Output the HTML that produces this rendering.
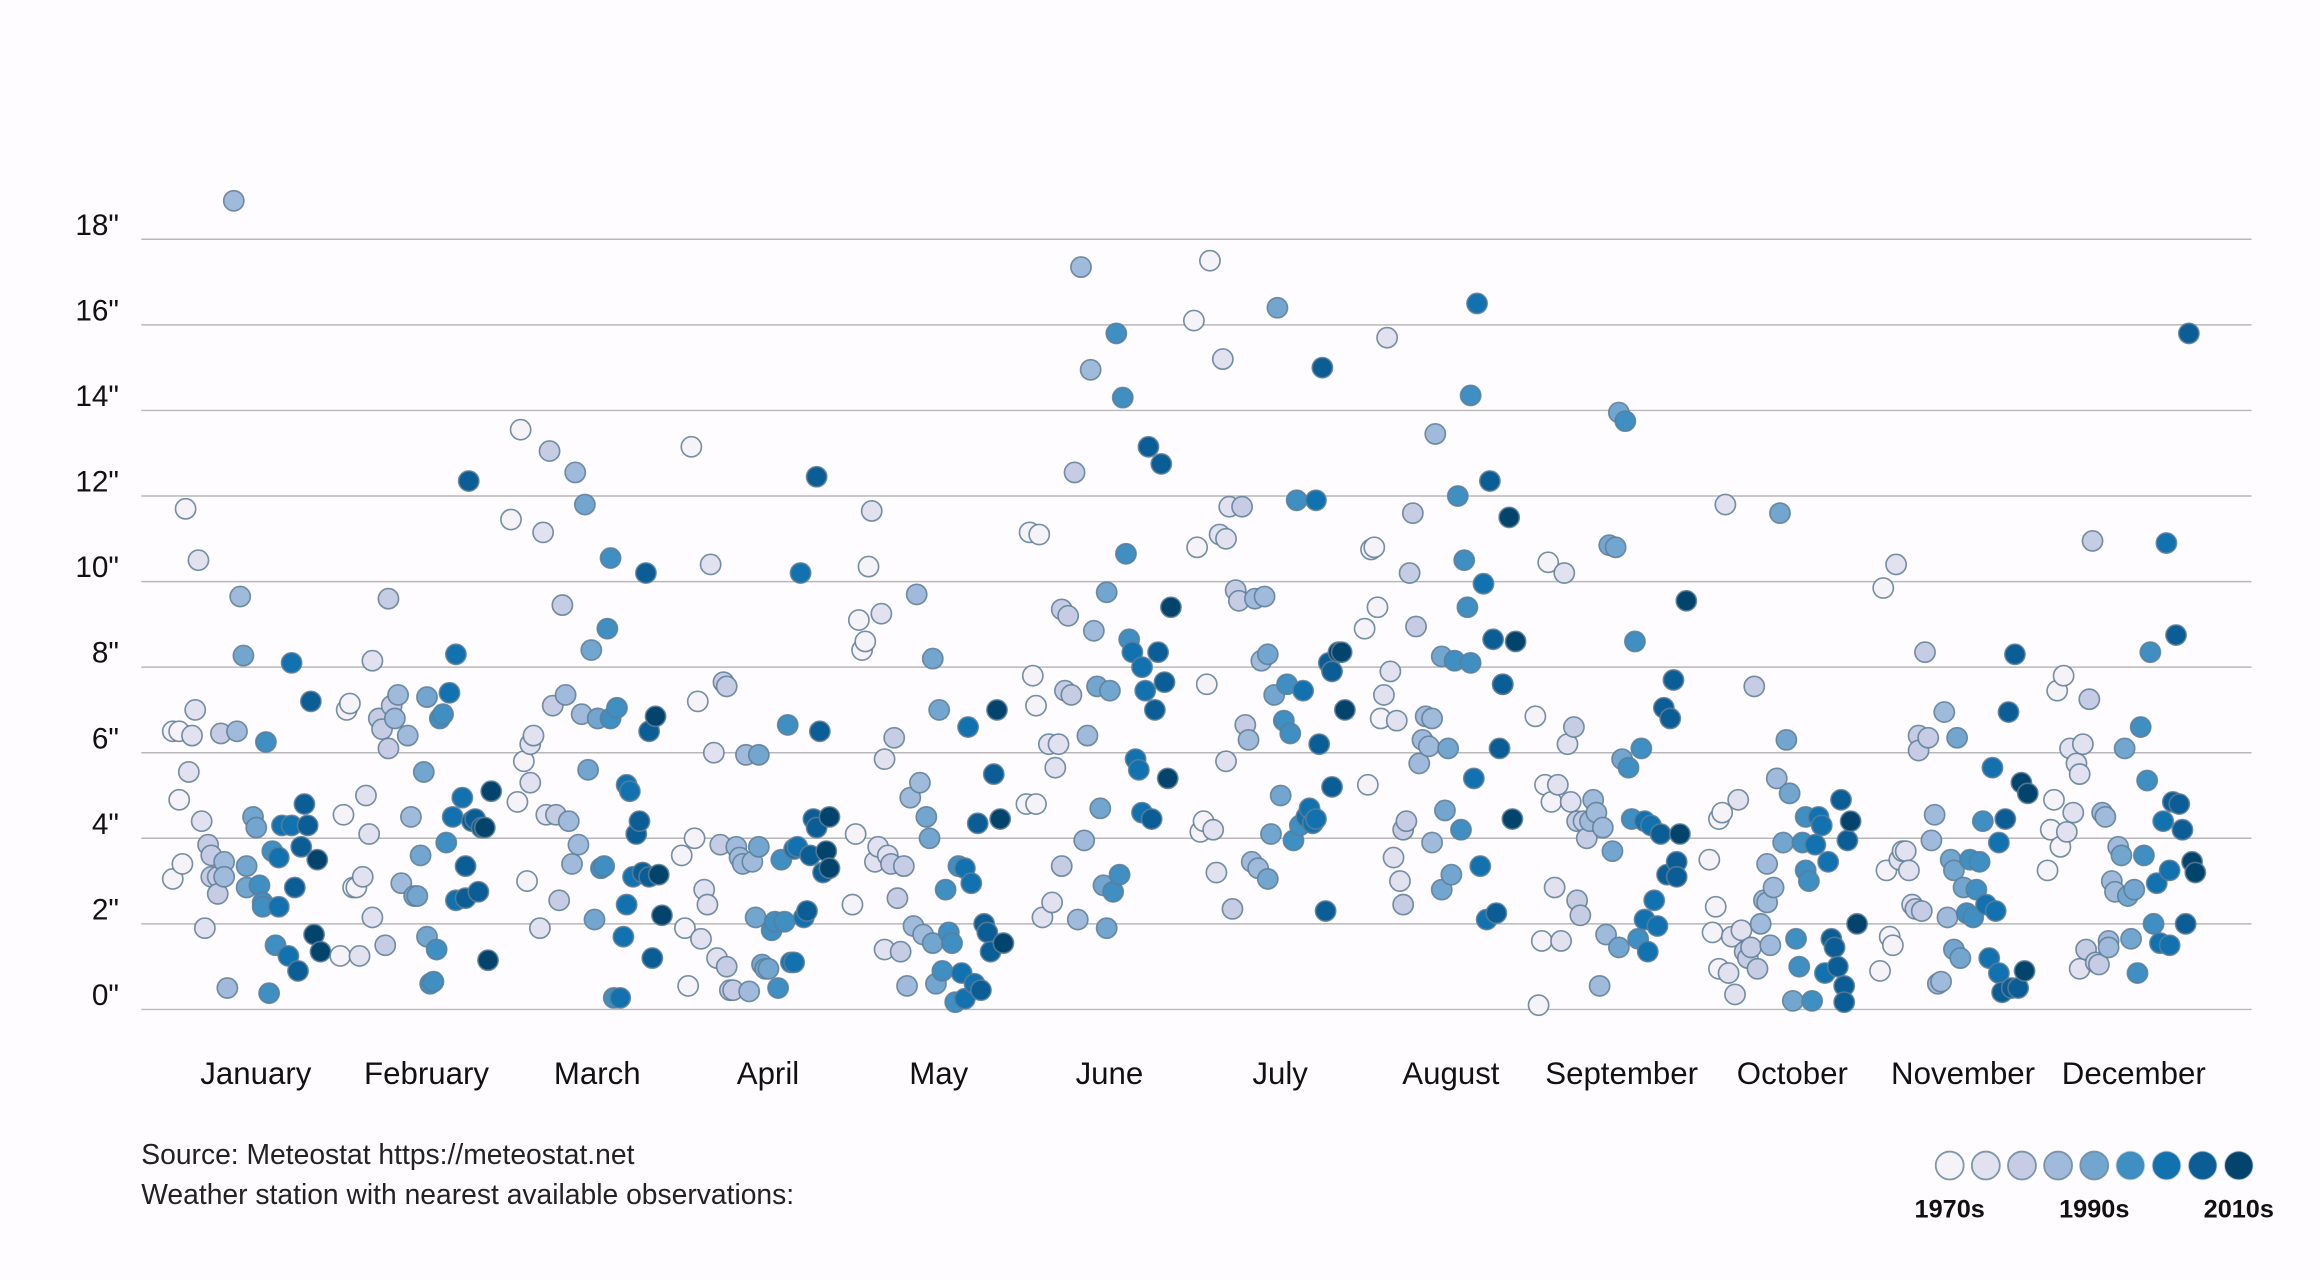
<!DOCTYPE html>
<html><head><meta charset="utf-8"><style>
html,body{margin:0;padding:0;background:#fefcfe;}
svg{display:block;font-family:"Liberation Sans",sans-serif;}
</style></head><body>
<svg id="chart" width="2320" height="1280" viewBox="0 0 1560 861" preserveAspectRatio="none" xmlns="http://www.w3.org/2000/svg">
<g id="grid"></g>
<g id="yticks"></g>
<g id="xticks"></g>
<g id="dots"></g>
<text x="95" y="783" font-size="19" fill="#222">Source: Meteostat https://meteostat.net</text>
<text x="95" y="810" font-size="19" fill="#222">Weather station with nearest available observations:</text>
<g id="legend"></g>
</svg>
<script>
const months = ["January","February","March","April","May","June","July","August","September","October","November","December"];
const yTicks = [0,2,4,6,8,10,12,14,16,18];
const legendLabels = ["1970s","","","","1990s","","","","2010s"];
const decadeColors = ["#f5f2f8","#e1e1ef","#c5cce4","#9fbadb","#72a6cf","#3f8fc2","#1272b0","#0a5d95","#03446c"];
// each point: [years since 1970, inches]
const jan = [[1,6.5],[3,6.5],[5,11.7],[1,3.05],[3,4.9],[6,5.55],[7,6.4],[8,7.0],[9,10.5],[4,3.4],[10,4.4],[11,1.9],[12,3.85],[13,3.6],[13,3.1],[15,3.1],[15,2.7],[17,3.45],[17,3.1],[16,6.45],[18,0.5],[20,18.9],[21,6.5],[22,9.65],[23,8.27],[24,3.35],[24,2.85],[26,4.5],[27,4.25],[28,2.9],[29,2.5],[29,2.4],[30,6.25],[31,0.38],[32,3.7],[33,1.5],[34,3.55],[34,2.4],[35,4.3],[37,1.25],[38,8.1],[38,4.3],[39,2.85],[40,0.9],[41,3.8],[42,4.8],[43,4.3],[44,7.2],[45,1.75],[46,3.5],[47,1.35]];
const feb = [[0,1.25],[1,4.55],[2,7.0],[3,7.15],[4,2.85],[5,2.85],[6,1.25],[7,3.1],[8,5.0],[9,4.1],[10,8.15],[10,2.15],[12,6.8],[13,6.55],[14,1.5],[15,9.6],[15,6.1],[16,7.1],[17,6.8],[18,7.35],[19,2.95],[21,6.4],[22,4.5],[23,2.65],[24,2.65],[25,3.6],[26,5.55],[27,7.3],[27,1.7],[28,0.6],[29,0.65],[30,1.4],[31,6.8],[32,6.9],[33,3.9],[34,7.4],[35,4.5],[36,8.3],[36,2.55],[38,4.95],[39,2.6],[39,3.35],[40,12.35],[41,4.4],[42,4.45],[43,2.75],[44,4.25],[45,4.25],[46,1.15],[47,5.1]];
const mar = [[0,11.45],[2,4.85],[3,13.55],[4,5.8],[5,3.0],[6,5.3],[6,6.2],[7,6.4],[9,1.9],[10,11.15],[11,4.55],[12,13.05],[13,7.1],[14,4.55],[15,2.55],[16,9.45],[17,7.35],[18,4.4],[19,3.4],[20,12.55],[21,3.85],[22,6.9],[23,11.8],[24,5.6],[25,8.4],[26,2.1],[27,6.8],[28,3.3],[29,3.35],[30,8.9],[31,10.55],[31,6.8],[32,0.27],[33,7.05],[34,0.27],[35,1.7],[36,2.45],[36,5.25],[37,5.1],[38,3.1],[39,4.1],[40,4.4],[41,3.2],[42,10.2],[43,3.1],[43,6.5],[44,1.2],[45,6.85],[46,3.15],[47,2.2]];
const apr = [[0,3.6],[1,1.9],[2,0.55],[3,13.15],[4,4.0],[5,7.2],[6,1.65],[7,2.8],[8,2.45],[9,10.4],[10,6.0],[11,1.2],[12,3.85],[13,7.65],[14,7.55],[14,1.0],[15,0.45],[16,0.45],[17,3.8],[18,3.55],[19,3.4],[20,5.95],[21,0.42],[22,3.45],[23,2.15],[24,3.8],[24,5.95],[25,1.05],[26,0.95],[27,0.95],[28,1.85],[29,2.05],[30,0.5],[31,3.5],[32,2.05],[33,6.65],[34,1.1],[35,3.75],[35,1.1],[36,3.8],[37,10.2],[38,2.15],[39,2.3],[40,3.6],[41,4.45],[42,12.45],[42,4.25],[43,6.5],[44,3.2],[45,3.7],[46,3.3],[46,4.5]];
const may = [[0,2.45],[1,4.1],[2,9.1],[3,8.4],[4,8.6],[5,10.35],[6,11.65],[7,3.45],[8,3.8],[9,9.25],[10,5.85],[10,1.4],[11,3.6],[12,3.4],[13,6.35],[14,2.6],[15,1.35],[16,3.35],[17,0.55],[18,4.95],[19,1.95],[20,9.7],[21,5.3],[22,1.75],[23,4.5],[24,4.0],[25,1.55],[25,8.2],[26,0.6],[27,7.0],[28,0.9],[29,2.8],[30,1.8],[31,1.55],[32,0.17],[33,3.35],[34,0.85],[35,0.25],[35,3.3],[36,6.6],[37,2.95],[38,0.6],[39,4.35],[40,0.45],[41,2.0],[42,1.8],[43,1.35],[44,5.5],[45,7.0],[46,4.45],[47,1.55]];
const jun = [[1,4.8],[2,11.15],[3,7.8],[4,7.1],[4,4.8],[5,11.1],[6,2.15],[8,6.2],[9,2.5],[10,5.65],[11,6.2],[12,9.35],[12,3.35],[13,7.45],[14,9.2],[15,7.35],[16,12.55],[17,2.1],[18,17.35],[19,3.95],[20,6.4],[21,14.95],[22,8.85],[23,7.55],[24,4.7],[25,2.9],[26,9.75],[26,1.9],[27,7.45],[28,2.75],[29,15.8],[30,3.15],[31,14.3],[32,10.65],[33,8.65],[34,8.35],[35,5.85],[36,5.6],[37,8.0],[37,4.6],[38,7.45],[39,13.15],[40,4.45],[41,7.0],[42,8.35],[43,12.75],[44,7.65],[45,5.4],[46,9.4]];
const jul = [[0,16.1],[1,10.8],[2,4.15],[3,4.4],[4,7.6],[5,17.5],[6,4.2],[7,3.2],[8,11.1],[9,15.2],[10,11.0],[10,5.8],[11,11.75],[12,2.35],[13,9.8],[14,9.55],[15,11.75],[16,6.65],[17,6.3],[18,3.45],[19,9.6],[20,3.3],[21,8.15],[22,9.65],[23,8.3],[23,3.05],[24,4.1],[25,7.35],[26,16.4],[27,5.0],[28,6.75],[29,7.6],[30,6.45],[31,3.95],[32,11.9],[33,4.3],[34,7.45],[35,4.5],[36,4.7],[37,4.35],[38,11.9],[38,4.45],[39,6.2],[40,15.0],[41,2.3],[42,8.1],[43,5.2],[43,7.9],[45,8.35],[46,8.35],[47,7.0]];
const aug = [[0,8.9],[1,5.25],[2,10.75],[3,10.8],[4,9.4],[5,6.8],[6,7.35],[7,15.7],[8,7.9],[9,3.55],[10,6.75],[11,3.0],[12,4.2],[12,2.45],[13,4.4],[14,10.2],[15,11.6],[16,8.95],[17,5.75],[18,6.3],[19,6.85],[20,6.15],[21,6.8],[21,3.9],[22,13.45],[24,2.8],[24,8.25],[25,4.65],[26,6.1],[27,3.15],[28,8.15],[29,12.0],[30,4.2],[31,10.5],[32,9.4],[33,8.1],[33,14.35],[34,5.4],[35,16.5],[36,3.35],[37,9.95],[38,2.1],[39,12.35],[40,8.65],[41,2.25],[42,6.1],[43,7.6],[43,7.6],[45,11.5],[46,4.45],[47,8.6]];
const sep = [[0,6.85],[1,0.1],[2,1.6],[3,5.25],[4,10.45],[5,4.85],[6,2.85],[7,5.25],[8,1.6],[9,10.2],[10,6.2],[11,4.85],[12,6.6],[13,4.4],[13,2.55],[14,2.2],[15,4.4],[16,4.0],[17,4.4],[18,4.9],[19,4.6],[20,0.55],[21,4.25],[22,1.75],[23,10.85],[24,3.7],[25,10.8],[26,1.45],[26,13.95],[27,5.85],[28,13.75],[29,5.65],[30,4.45],[31,8.6],[32,1.65],[33,6.1],[34,4.4],[34,2.1],[35,1.35],[36,4.3],[37,2.55],[38,1.95],[39,4.1],[40,7.05],[41,3.15],[42,6.8],[43,7.7],[44,3.45],[44,3.1],[45,4.1],[47,9.55]];
const oct = [[1,3.5],[2,1.8],[3,2.4],[4,0.95],[4,4.45],[5,4.6],[6,11.8],[7,0.85],[8,1.7],[9,0.35],[10,4.9],[11,1.85],[12,1.35],[13,1.2],[14,1.45],[15,7.55],[16,0.95],[17,2.0],[18,2.55],[19,3.4],[19,2.5],[20,1.5],[21,2.85],[22,5.4],[23,11.6],[24,3.9],[25,6.3],[26,5.05],[27,0.2],[28,1.65],[29,1.0],[30,3.9],[31,3.25],[31,4.5],[32,3.0],[33,0.2],[34,3.85],[35,4.5],[36,4.3],[37,0.85],[38,3.45],[39,1.65],[40,1.45],[41,1.0],[42,4.9],[43,0.55],[43,0.17],[44,3.95],[45,4.4],[47,2.0]];
const nov = [[1,0.9],[2,9.85],[3,3.25],[4,1.7],[5,1.5],[6,10.4],[7,3.5],[8,3.7],[9,3.7],[10,3.25],[11,2.45],[12,2.35],[13,6.4],[13,6.05],[14,2.3],[15,8.35],[16,6.35],[17,3.95],[18,4.55],[19,0.6],[20,0.65],[21,6.95],[22,2.15],[23,3.5],[24,3.25],[24,1.4],[25,6.35],[26,1.2],[27,2.85],[28,2.25],[29,3.5],[30,2.15],[31,2.8],[32,3.45],[33,4.4],[34,2.45],[35,1.2],[36,5.65],[37,2.3],[38,3.9],[38,0.85],[39,0.4],[40,4.45],[41,6.95],[42,0.5],[43,8.3],[44,0.5],[45,5.3],[46,0.9],[47,5.05]];
const dec = [[0,3.25],[1,4.2],[2,4.9],[3,7.45],[4,3.8],[5,7.8],[6,4.15],[7,6.1],[8,4.6],[9,5.75],[10,0.95],[10,5.5],[11,6.2],[12,1.4],[13,7.25],[14,10.95],[15,1.1],[16,1.05],[17,4.6],[18,4.5],[19,1.6],[19,1.45],[20,3.0],[21,2.75],[22,3.8],[23,3.6],[24,6.1],[25,2.65],[26,1.65],[27,2.8],[28,0.85],[29,6.6],[30,3.6],[31,5.35],[32,8.35],[33,2.0],[34,2.95],[35,1.55],[36,4.4],[37,10.9],[38,1.5],[38,3.25],[39,4.85],[40,8.75],[41,4.8],[42,4.2],[43,2.0],[44,15.8],[45,3.45],[46,3.2]];
const series = [jan,feb,mar,apr,may,jun,jul,aug,sep,oct,nov,dec];

const NS="http://www.w3.org/2000/svg";
const X0=95, X1=1514, Y0=679, PER=28.78, BAND=114.8, FIRST=172;
function yScale(v){return Y0 - v*PER;}
function monthCenter(i){return FIRST + i*BAND;}
function xScale(m,yr){return monthCenter(m) - 58 + yr/0.463*1.0;}
function colorOf(yr){return decadeColors[Math.max(0,Math.min(8,Math.floor(yr/50*9)))];}
function mk(tag,attrs,parent){const e=document.createElementNS(NS,tag);for(const k in attrs)e.setAttribute(k,attrs[k]);parent.appendChild(e);return e;}

const grid=document.getElementById('grid'), yt=document.getElementById('yticks'), xt=document.getElementById('xticks'), dots=document.getElementById('dots'), leg=document.getElementById('legend');
yTicks.forEach(t=>{
  const l=mk('line',{x1:X0,x2:X1,y1:yScale(t),y2:yScale(t),stroke:'#b8b8b8','stroke-width':1},grid);
  
  
  const tx=mk('text',{x:80,y:yScale(t)-3,'text-anchor':'end','font-size':20,fill:'#111'},yt);
  tx.textContent=t+'"';
  
  
});
months.forEach((m,i)=>{
  const tx=mk('text',{x:monthCenter(i),y:729,'text-anchor':'middle','font-size':21,fill:'#111'},xt);
  tx.textContent=m;
  
  
});
series.forEach((arr,m)=>{
  arr.forEach(p=>{
    const c=mk('circle',{cx:xScale(m,p[0]),cy:yScale(p[1]),r:6.8,fill:colorOf(p[0]),stroke:'#5d7c96','stroke-width':1.1,'stroke-opacity':0.85},dots);
    
    
  });
});
decadeColors.forEach((col,i)=>{
  const cx=1311+i*24.3;
  const c=mk('circle',{cx:cx,cy:784,r:9.4,fill:col,stroke:'#6e8ca4','stroke-width':1.2,'stroke-opacity':i<5?0.9:0.3},leg);
  
  
  if(legendLabels[i]){
    const t=mk('text',{x:cx,y:819,'text-anchor':'middle','font-size':17,'font-weight':'bold',fill:'#111'},leg);
    t.textContent=legendLabels[i];
    
    
  }
});
</script>
</body></html>
